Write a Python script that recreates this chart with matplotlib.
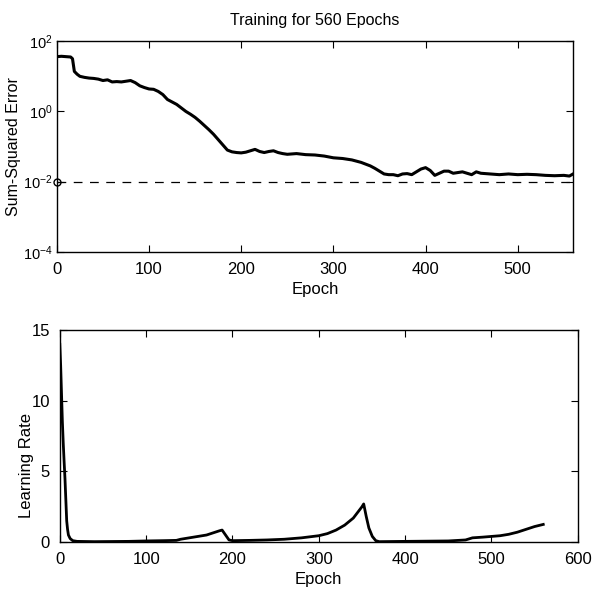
import matplotlib
matplotlib.use("Agg")
import matplotlib.pyplot as plt
import numpy as np

plt.rcParams['font.family'] = ['Liberation Sans', 'DejaVu Sans']
plt.rcParams['mathtext.fontset'] = 'custom'
plt.rcParams['mathtext.rm'] = 'Liberation Sans'
plt.rcParams['mathtext.it'] = 'Liberation Sans'

# --- data ---
sse_epoch = [0, 5, 10, 15, 17, 19, 22, 25, 30, 35, 40, 45, 50, 55, 60, 65, 70, 75, 80, 85,
             90, 95, 100, 105, 110, 115, 120, 125, 130, 135, 140, 145, 150, 155, 160, 165,
             170, 175, 180, 185, 190, 195, 200, 205, 210, 215, 220, 225, 230, 235, 240, 245,
             250, 260, 270, 280, 290, 300, 310, 320, 330, 340, 345, 350, 355, 360, 365, 370,
             375, 380, 385, 390, 395, 400, 405, 410, 415, 420, 425, 430, 435, 440, 445, 450,
             455, 460, 470, 480, 490, 500, 510, 520, 530, 540, 550, 556, 560]
sse_log10 = [1.56, 1.57, 1.56, 1.55, 1.5, 1.14, 1.06, 1.0, 0.97, 0.95, 0.94, 0.92, 0.88, 0.9,
             0.84, 0.85, 0.84, 0.86, 0.88, 0.82, 0.73, 0.68, 0.64, 0.63, 0.57, 0.48, 0.34, 0.27,
             0.2, 0.1, 0.0, -0.08, -0.17, -0.28, -0.4, -0.52, -0.65, -0.8, -0.95, -1.1, -1.15,
             -1.17, -1.18, -1.16, -1.12, -1.08, -1.14, -1.17, -1.14, -1.12, -1.17, -1.2, -1.22,
             -1.2, -1.23, -1.24, -1.27, -1.32, -1.34, -1.38, -1.45, -1.55, -1.62, -1.7, -1.78,
             -1.8, -1.8, -1.83, -1.78, -1.77, -1.8, -1.72, -1.64, -1.6, -1.68, -1.82, -1.76,
             -1.7, -1.7, -1.76, -1.74, -1.72, -1.76, -1.8, -1.72, -1.76, -1.78, -1.8, -1.78,
             -1.8, -1.79, -1.8, -1.82, -1.83, -1.82, -1.84, -1.78]
sse = [10 ** v for v in sse_log10]
goal = 0.01
n_epochs = 560

lr_epoch = [0, 1, 2, 3, 4, 5, 6, 7, 8, 9, 10, 12, 15, 20, 40, 80, 100, 120, 135, 140, 150,
            160, 170, 180, 185, 188, 192, 196, 200, 220, 240, 260, 280, 300, 310, 320, 330,
            340, 345, 350, 352, 355, 358, 362, 366, 370, 400, 450, 470, 478, 490, 500, 510,
            520, 530, 540, 550, 560]
lr = [14.0, 12.5, 10.5, 8.5, 7.0, 5.7, 4.5, 3.0, 1.5, 0.9, 0.5, 0.25, 0.1, 0.05, 0.03, 0.05,
      0.08, 0.1, 0.12, 0.2, 0.3, 0.4, 0.5, 0.7, 0.8, 0.85, 0.5, 0.15, 0.1, 0.12, 0.15, 0.2,
      0.3, 0.45, 0.6, 0.85, 1.2, 1.7, 2.1, 2.5, 2.7, 1.8, 1.0, 0.4, 0.1, 0.03, 0.05, 0.08,
      0.15, 0.3, 0.35, 0.4, 0.45, 0.55, 0.7, 0.9, 1.1, 1.25]

fig = plt.figure(figsize=(5.92, 5.97), dpi=100)

# --- top: error ---
ax1 = fig.add_axes([0.096, 0.578, 0.872, 0.353])
ax1.semilogy(sse_epoch, sse, color='k', lw=2.2)
ax1.plot([0, n_epochs], [goal, goal], color='k', lw=0.9, ls=(0, (7, 6)))
ax1.plot([0], [goal], marker='o', ms=5, mfc='none', mec='k', clip_on=False)
ax1.set_xlim(0, n_epochs)
ax1.set_ylim(1e-4, 1e2)
ax1.set_yticks([1e-4, 1e-2, 1e0, 1e2])
ax1.minorticks_off()
ax1.set_xticks([0, 100, 200, 300, 400, 500])
ax1.set_title("Training for 560 Epochs", fontsize=11.5, pad=12)
ax1.set_xlabel("Epoch", fontsize=12, labelpad=4)
ax1.set_ylabel("Sum-Squared Error", fontsize=11.5)
ax1.yaxis.set_label_coords(-0.07, 0.5)

# --- bottom: learning rate ---
ax2 = fig.add_axes([0.101, 0.092, 0.875, 0.355])
ax2.plot(lr_epoch, lr, color='k', lw=2.0)
ax2.set_xlim(0, 600)
ax2.set_ylim(0, 15)
ax2.set_xticks([0, 100, 200, 300, 400, 500, 600])
ax2.set_yticks([0, 5, 10, 15])
ax2.set_xlabel("Epoch", fontsize=12, labelpad=4)
ax2.set_ylabel("Learning Rate", fontsize=12)
ax2.yaxis.set_label_coords(-0.05, 0.36)

for ax in (ax1, ax2):
    ax.tick_params(direction='in', top=True, right=True, length=5, labelsize=12, pad=7)
    for s in ax.spines.values():
        s.set_linewidth(1.0)
ax1.tick_params(axis='y', labelsize=10.5, pad=3)

plt.savefig("out.png", dpi=100)
